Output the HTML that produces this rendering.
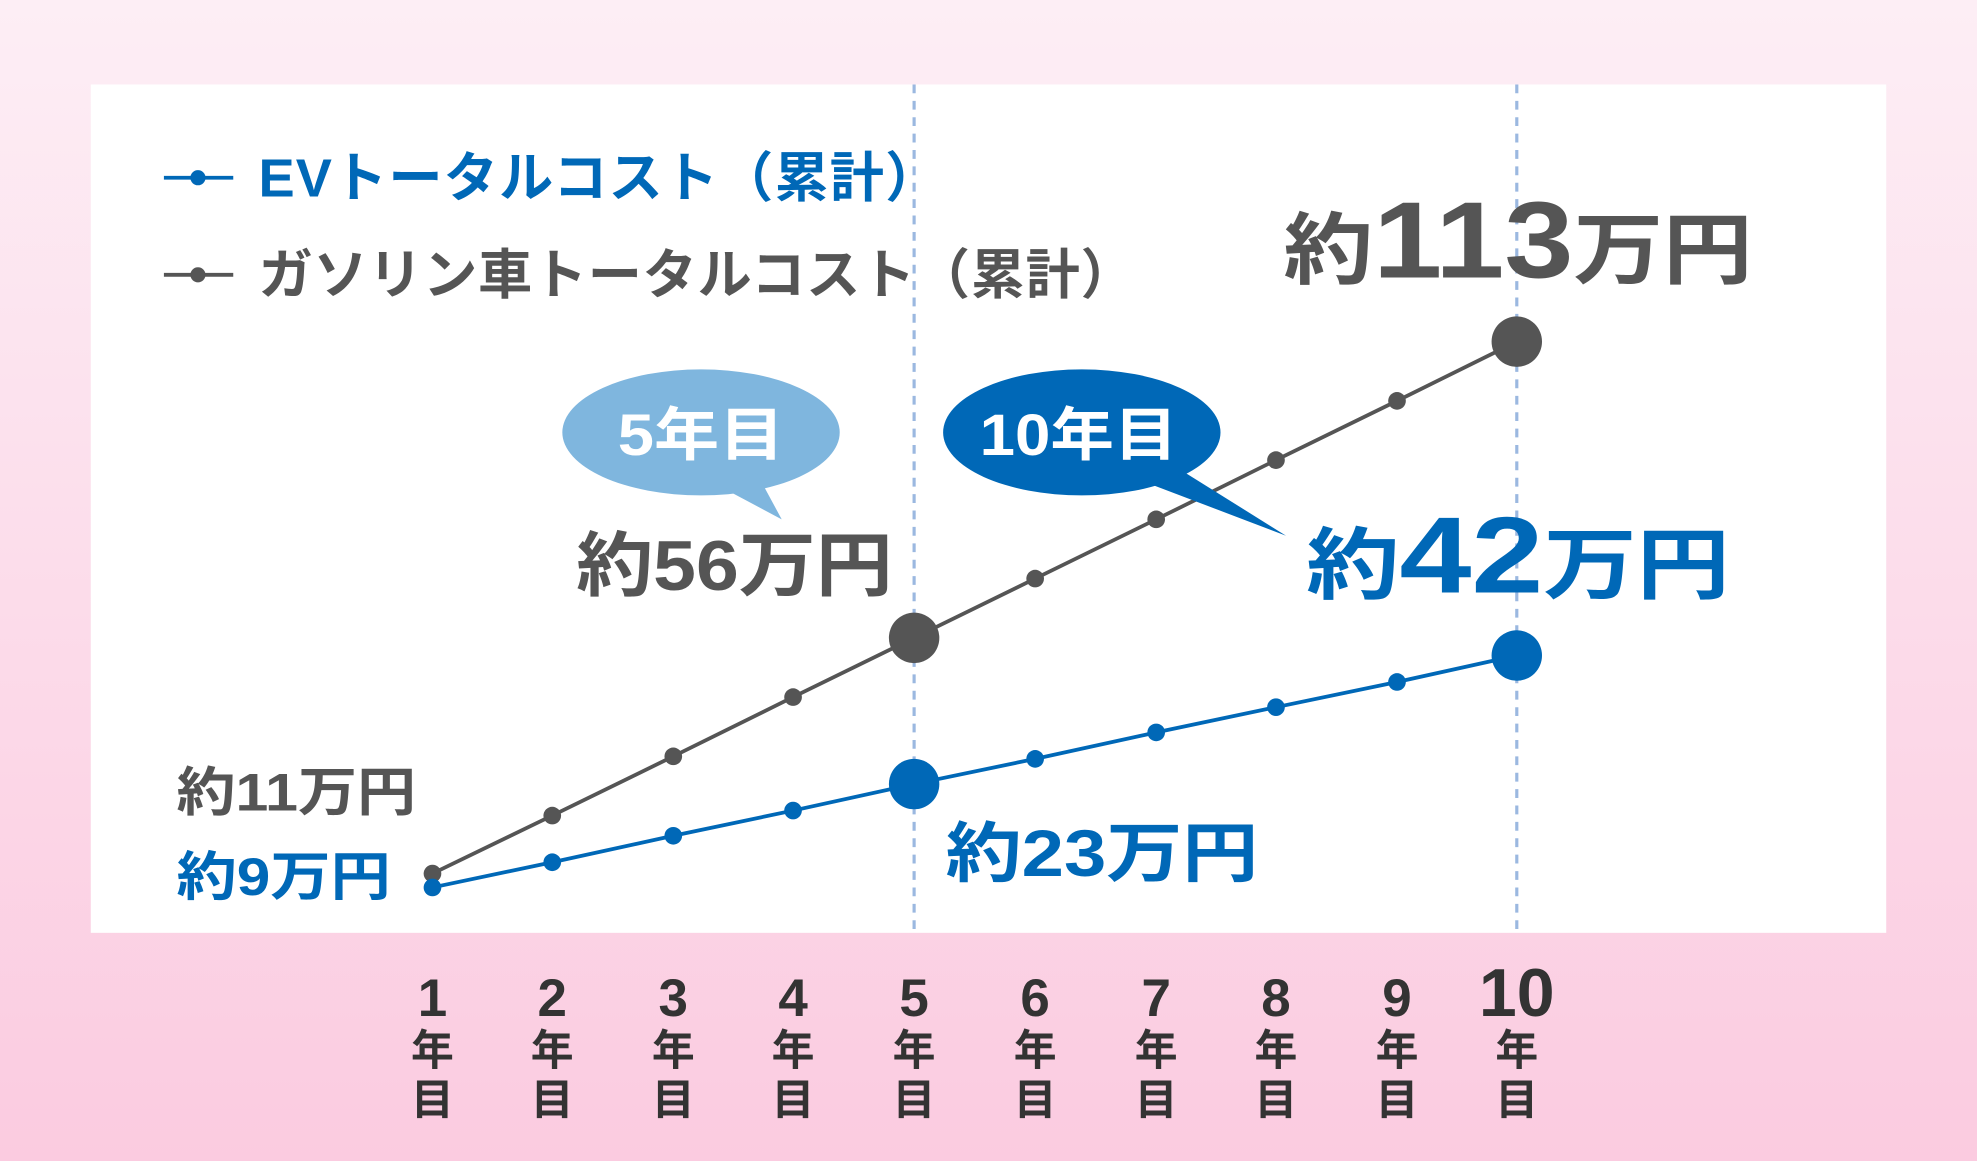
<!DOCTYPE html>
<html><head><meta charset="utf-8"><style>
html,body{margin:0;padding:0;width:1977px;height:1161px;overflow:hidden}
svg{display:block}
text{font-family:"Liberation Sans","Noto Sans CJK JP",sans-serif;font-weight:bold}
</style></head><body>
<svg width="1977" height="1161" viewBox="0 0 1568 921" preserveAspectRatio="none" xmlns="http://www.w3.org/2000/svg">
<defs><linearGradient id="bg" x1="0" y1="0" x2="0" y2="1"><stop offset="0" stop-color="#fdeef5"/><stop offset="1" stop-color="#fbcbe0"/></linearGradient></defs>
<rect width="1568" height="921" fill="url(#bg)"/>
<rect x="72" y="67" width="1424" height="673" fill="#fff"/>
<line x1="725" y1="67" x2="725" y2="740" stroke="#9bb8e0" stroke-width="2.5" stroke-dasharray="7,6"/>
<line x1="1203" y1="67" x2="1203" y2="740" stroke="#9bb8e0" stroke-width="2.5" stroke-dasharray="7,6"/>
<!-- legend -->
<line x1="130" y1="141" x2="185" y2="141" stroke="#0068b7" stroke-width="3"/><circle cx="157" cy="141" r="6" fill="#0068b7"/>
<text x="205" y="156" font-size="43" fill="#0068b7" textLength="540" lengthAdjust="spacing">EVトータルコスト（累計）</text>
<line x1="130" y1="218" x2="185" y2="218" stroke="#555" stroke-width="3"/><circle cx="157" cy="218" r="6" fill="#555"/>
<text x="205" y="233" font-size="43" fill="#555" textLength="695" lengthAdjust="spacing">ガソリン車トータルコスト（累計）</text>
<!-- series -->
<polyline points="343,693 438,647 534,600 629,553 725,506 821,459 917,412 1012,365 1108,318 1203,271" fill="none" stroke="#555" stroke-width="3"/>
<g fill="#555"><circle cx="343" cy="693" r="7"/><circle cx="438" cy="647" r="7"/><circle cx="534" cy="600" r="7"/><circle cx="629" cy="553" r="7"/><circle cx="725" cy="506" r="20"/><circle cx="821" cy="459" r="7"/><circle cx="917" cy="412" r="7"/><circle cx="1012" cy="365" r="7"/><circle cx="1108" cy="318" r="7"/><circle cx="1203" cy="271" r="20"/></g>
<polyline points="343,704 438,684 534,663 629,643 725,622 821,602 917,581 1012,561 1108,541 1203,520" fill="none" stroke="#0068b7" stroke-width="3"/>
<g fill="#0068b7"><circle cx="343" cy="704" r="7"/><circle cx="438" cy="684" r="7"/><circle cx="534" cy="663" r="7"/><circle cx="629" cy="643" r="7"/><circle cx="725" cy="622" r="20"/><circle cx="821" cy="602" r="7"/><circle cx="917" cy="581" r="7"/><circle cx="1012" cy="561" r="7"/><circle cx="1108" cy="541" r="7"/><circle cx="1203" cy="520" r="20"/></g>
<!-- bubbles -->
<ellipse cx="556" cy="343" rx="110" ry="50" fill="#7fb6de"/>
<polygon points="575,388 620,412 600,375" fill="#7fb6de"/>
<text x="490" y="361" font-size="46" fill="#fff" font-weight="normal" textLength="132" lengthAdjust="spacingAndGlyphs">5年目</text>
<ellipse cx="858" cy="343" rx="110" ry="50" fill="#0068b7"/>
<polygon points="915,385 1020,425 940,375" fill="#0068b7"/>
<text x="777" y="361" font-size="46" fill="#fff" font-weight="normal" textLength="157" lengthAdjust="spacingAndGlyphs">10年目</text>
<!-- value labels -->
<text x="1018" y="220" fill="#555" textLength="372" lengthAdjust="spacingAndGlyphs"><tspan font-size="62">約</tspan><tspan font-size="86">113</tspan><tspan font-size="62">万円</tspan></text>
<text x="1036" y="470" fill="#0068b7" textLength="336" lengthAdjust="spacingAndGlyphs"><tspan font-size="62">約</tspan><tspan font-size="86">42</tspan><tspan font-size="62">万円</tspan></text>
<text x="457" y="468" font-size="56" fill="#555" textLength="251" lengthAdjust="spacingAndGlyphs">約56万円</text>
<text x="140" y="643" font-size="42" fill="#555" textLength="190" lengthAdjust="spacingAndGlyphs">約11万円</text>
<text x="140" y="710" font-size="42" fill="#0068b7" textLength="170" lengthAdjust="spacingAndGlyphs">約9万円</text>
<text x="750" y="695" font-size="52" fill="#0068b7" textLength="248" lengthAdjust="spacingAndGlyphs">約23万円</text>
<!-- x axis -->
<g fill="#333" text-anchor="middle">
<g font-size="42"><text x="343" y="806">1</text><text x="438" y="806">2</text><text x="534" y="806">3</text><text x="629" y="806">4</text><text x="725" y="806">5</text><text x="821" y="806">6</text><text x="917" y="806">7</text><text x="1012" y="806">8</text><text x="1108" y="806">9</text><text x="1203" y="806" font-size="54">10</text></g>
<g font-size="34"><text x="343" y="845">年</text><text x="438" y="845">年</text><text x="534" y="845">年</text><text x="629" y="845">年</text><text x="725" y="845">年</text><text x="821" y="845">年</text><text x="917" y="845">年</text><text x="1012" y="845">年</text><text x="1108" y="845">年</text><text x="1203" y="845">年</text>
<text x="343" y="884">目</text><text x="438" y="884">目</text><text x="534" y="884">目</text><text x="629" y="884">目</text><text x="725" y="884">目</text><text x="821" y="884">目</text><text x="917" y="884">目</text><text x="1012" y="884">目</text><text x="1108" y="884">目</text><text x="1203" y="884">目</text></g>
</g>
</svg>
</body></html>
